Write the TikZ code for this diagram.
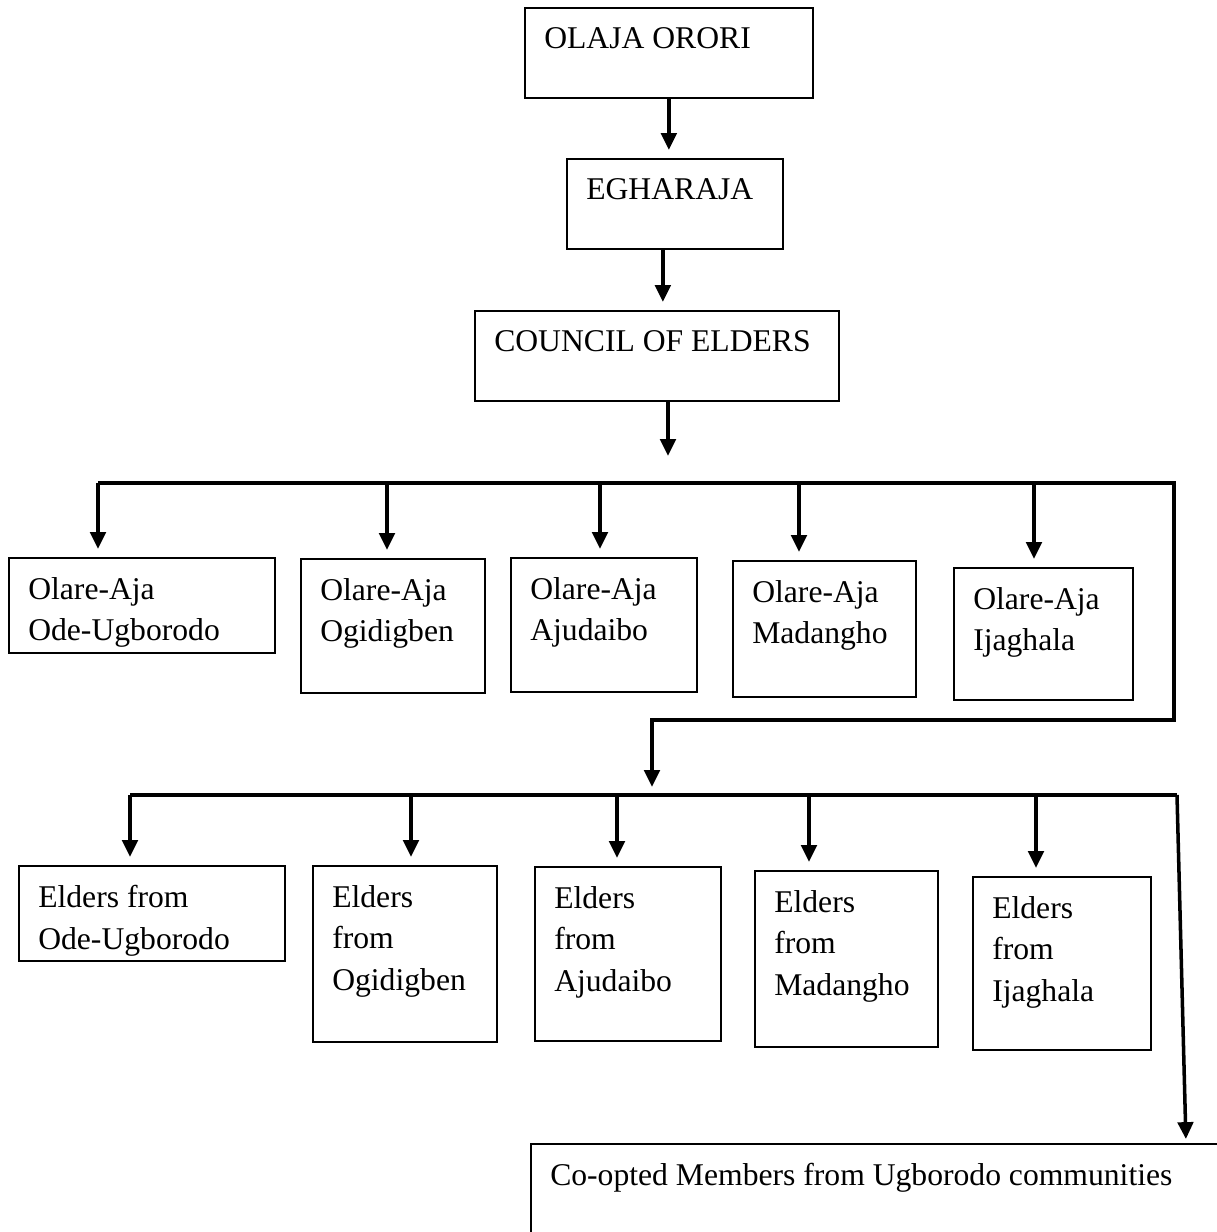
\documentclass[tikz,border=0pt]{standalone}
\usepackage{fontspec}
\setmainfont{Liberation Serif}
\usetikzlibrary{arrows.meta}

\tikzset{
  unit/.style={rectangle, draw, line width=1.2pt, anchor=north west, inner sep=0pt},
  unittext/.style={anchor=north west, inner sep=0pt, align=left, xshift=0.5cm, yshift=-0.5cm,
    font=\fontsize{22.5}{29.5}\selectfont},
  link/.style={-{Triangle[width=11pt,length=12pt]}, line width=2.5pt, shorten >=0.2cm},
  bar/.style={line width=2.5pt}
}

\begin{document}
\begin{tikzpicture}[x=0.025cm, y=-0.025cm]
      \useasboundingbox (0,0) rectangle (1217,1232);
      % top of the chart
      \node (olaja) at (524,7) [unit, minimum width=7.2cm, minimum height=2.25cm,
        label={[unittext]north west:OLAJA ORORI}] {};
      \node (egharaja) at (566,158) [unit, minimum width=5.4cm, minimum height=2.25cm,
        label={[unittext]north west:EGHARAJA}] {};
      \node (council) at (474,310) [unit, minimum width=9.1cm, minimum height=2.25cm,
        label={[unittext]north west:COUNCIL OF ELDERS}] {};
      \draw [link](olaja.south)--(olaja.south |- egharaja.north);
      \draw [link]([xshift=-0.3cm]egharaja.south)--([xshift=-0.3cm]egharaja.south |- council.north);
      \coordinate (split1) at (668,456);
      \draw [link,shorten >=0pt](council.south -| split1)--(split1);
      % Olare-Aja row
      \node (r1ode) at (8,557) [unit, minimum width=6.65cm, minimum height=2.375cm,
        label={[unittext]north west:{Olare-Aja\\Ode-Ugborodo}}] {};
      \node (r1ogi) at (300,558) [unit, minimum width=4.6cm, minimum height=3.35cm,
        label={[unittext]north west:{Olare-Aja\\Ogidigben}}] {};
      \node (r1aju) at (510,557) [unit, minimum width=4.65cm, minimum height=3.35cm,
        label={[unittext]north west:{Olare-Aja\\Ajudaibo}}] {};
      \node (r1mad) at (732,560) [unit, minimum width=4.575cm, minimum height=3.4cm,
        label={[unittext]north west:{Olare-Aja\\Madangho}}] {};
      \node (r1ija) at (953,567) [unit, minimum width=4.475cm, minimum height=3.3cm,
        label={[unittext]north west:{Olare-Aja\\Ijaghala}}] {};
      \coordinate (b1l) at (98,483);
      \coordinate (b1b) at (387,483);
      \coordinate (b1c) at (600,483);
      \coordinate (b1d) at (799,483);
      \coordinate (b1e) at (1034,483);
      \coordinate (b1r) at (1174,483);
      \coordinate (turn) at (1174,720);
      \coordinate (split2) at (652,787);
      \draw [link,shorten >=0pt](b1l)--(b1r)--(turn)-|(split2);
      \draw [link](b1l)--(b1l |- r1ode.north);
      \draw [link](b1b)--(b1b |- r1ogi.north);
      \draw [link](b1c)--(b1c |- r1aju.north);
      \draw [link](b1d)--(b1d |- r1mad.north);
      \draw [link](b1e)--(b1e |- r1ija.north);
      % Elders row
      \node (r2ode) at (18,865) [unit, minimum width=6.65cm, minimum height=2.375cm,
        label={[unittext]north west:{Elders from\\Ode-Ugborodo}}] {};
      \node (r2ogi) at (312,865) [unit, minimum width=4.6cm, minimum height=4.4cm,
        label={[unittext]north west:{Elders\\from\\Ogidigben}}] {};
      \node (r2aju) at (534,866) [unit, minimum width=4.65cm, minimum height=4.35cm,
        label={[unittext]north west:{Elders\\from\\Ajudaibo}}] {};
      \node (r2mad) at (754,870) [unit, minimum width=4.575cm, minimum height=4.4cm,
        label={[unittext]north west:{Elders\\from\\Madangho}}] {};
      \node (r2ija) at (972,876) [unit, minimum width=4.45cm, minimum height=4.325cm,
        label={[unittext]north west:{Elders\\from\\Ijaghala}}] {};
      \coordinate (b2l) at (130,795);
      \coordinate (b2b) at (411,795);
      \coordinate (b2c) at (617,795);
      \coordinate (b2d) at (809,795);
      \coordinate (b2e) at (1036,795);
      \coordinate (b2r) at (1177,795);
      \draw [bar](b2l)--(b2r);
      \draw [link](b2l)--(b2l |- r2ode.north);
      \draw [link](b2b)--(b2b |- r2ogi.north);
      \draw [link](b2c)--(b2c |- r2aju.north);
      \draw [link](b2d)--(b2d |- r2mad.north);
      \draw [link](b2e)--(b2e |- r2ija.north);
      % co-opted members
      \node (coopted) at (530,1143) [unit, minimum width=17.9cm, minimum height=3cm,
        label={[unittext]north west:Co-opted Members from Ugborodo communities}] {};
      \coordinate (coin) at (1186,1143);
      \draw [link,shorten >=0.1cm](b2r)--(coin);
    \end{tikzpicture}
\end{document}
